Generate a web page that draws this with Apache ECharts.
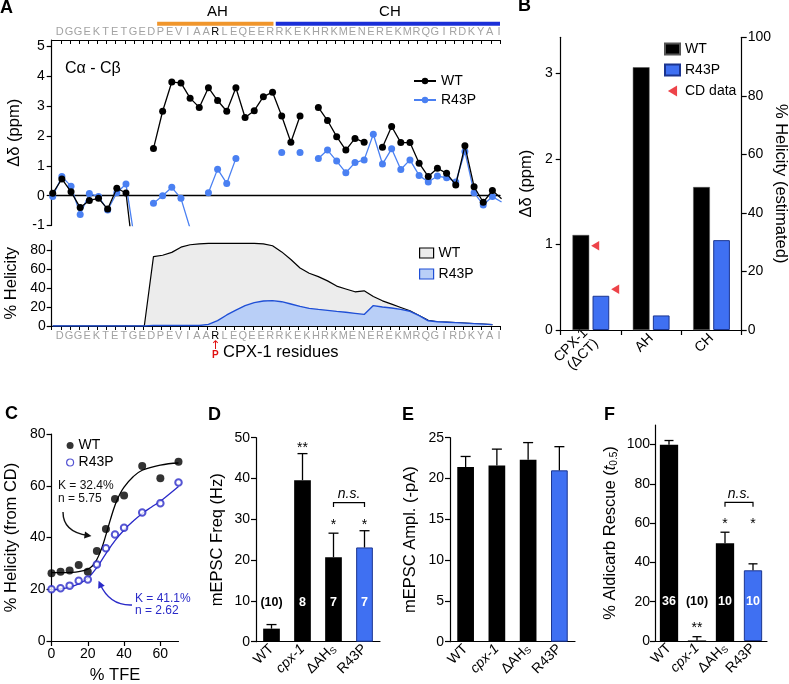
<!DOCTYPE html>
<html><head><meta charset="utf-8">
<script src="https://cdn.jsdelivr.net/npm/echarts@6/dist/echarts.min.js"></script>
<style>html,body{margin:0;padding:0;background:#fff}#c{width:789px;height:684px}</style>
</head><body><div id="c"></div>
<script>
// ---------------- DATA ----------------
const residues = ['D','G','G','E','K','T','E','T','G','E','D','P','E','V','I','A','A','R','L','E','Q','E','E','R','R','K','E','K','H','R','K','M','E','N','E','R','E','K','M','R','Q','G','I','R','D','K','Y','A','I'];
const mutantResidue = 17;
// Panel A: Ca-Cb secondary shift per residue index (null = not assigned)
const wtShift = [0.08,0.56,0.13,-0.40,-0.16,-0.09,-0.45,0.25,0.09,-2.5,null,1.58,2.83,3.81,3.78,3.27,2.96,3.62,3.19,2.83,3.62,2.62,2.85,3.32,3.47,2.67,1.79,2.67,null,2.96,2.52,1.98,1.53,1.92,1.79,null,1.62,2.32,1.78,1.78,1.09,0.64,0.92,0.75,0.36,1.67,0.30,-0.22,0.17,-0.10];
const r43pShift = [-0.03,0.64,0.32,-0.63,0.07,-0.03,-0.48,0.10,0.39,-1.6,null,-0.25,0.0,0.28,-0.09,-1.1,null,0.10,0.89,0.41,1.25,null,null,null,null,1.45,null,1.45,null,1.25,1.53,1.16,0.77,1.11,1.20,2.06,1.06,1.57,0.88,1.20,0.68,0.46,0.66,0.60,0.46,1.48,0.10,-0.31,-0.03,-0.21];
// Panel A: % helicity per residue
const wtHelix = [0,0,0,0,0,0,0,0,0,0,0,73,74.5,77.5,83,85.5,86.5,87,87,87,87,87,87,86.5,84.5,78,70,61,55.5,52,47.5,42,39,36,37,31,26.5,23,19.5,16,11,6,4.5,4,3.5,3,2.5,2,1.5];
const r43pHelix = [0,0,0,0,0,0,0,0,0,0,0,0.5,0.5,0.5,0.5,0.5,0.5,1.7,5.6,11.6,16.8,21.4,24.6,26.3,26.7,25.6,23.2,20.7,18.6,17.5,16.5,15.4,14.4,13.3,12.2,21.5,20,19,17.5,15.5,11,5.5,4.5,4,3.5,3,2.5,2,1.5];
// Panel B
const regionsB = ['CPX-1\n(ΔCT)','AH','CH'];
const wtB = [1.11,3.07,1.67];
const r43pB = [0.40,0.17,1.05];
const cdHelicity = [28.8,13.9]; // WT, R43P of CPX-1 (% helicity)
// Panel C
const tfe = [0,5,10,15,20,25,30,35,40,50,60,70];
const wtCD = [26.2,26.8,27.2,29.4,26.8,34.8,43.3,54.9,56.2,67.6,62.9,69.3];
const r43pCD = [20.0,20.4,21.4,23.3,23.8,29.6,35.8,41.2,43.8,49.7,53.2,61.3];
const wtFitX = [0,5,10,15,20,22.5,25,27.5,30,32.5,35,37.5,40,45,50,60,70];
const wtFitY = [26.4,26.4,26.5,26.8,27.8,29,31.5,35.5,41,47,52.5,56.5,59.5,63.5,66,68,68.8];
const r43pFitX = [0,5,10,15,20,25,30,35,40,45,50,55,60,65,70];
const r43pFitY = [19.8,20.1,20.8,22.1,24.2,28.4,33.8,38.8,42.9,46.3,49.3,51.7,54,56.8,59.7];
// Panels D-F
const genotypes = ['WT','cpx-1','ΔAHS','R43P'];
const freqMean = [3.2,39.6,20.7,23.1];
const freqErr = [1.0,6.5,5.9,4.1];
const freqN = ['(10)','8','7','7'];
const freqSig = ['','**','*','*'];
const freqSigLevel = [null,47.4,28.6,28.6];
const amplMean = [21.4,21.6,22.3,21.0];
const amplErr = [1.3,2.0,2.1,2.9];
const rescueMean = [100,0.3,49.8,36.0];
const rescueErr = [2.1,1.9,5.6,3.3];
const rescueN = ['36','(10)','10','10'];
const rescueSig = ['','**','*','*'];
const rescueSigLevel = [null,6.6,59.3,59.3];

// ---------------- STYLE ----------------
const FONT = '"Liberation Sans", Arial, Helvetica, sans-serif';
const BLUE_BAR = '#3f70f2', BLUE_EDGE = '#1b3590', BLUE_PT = '#4a80f2', CD_BLUE = '#2a2ac8';
const BLK = '#000';
const chart = echarts.init(document.getElementById('c'));

const line = (w) => ({show:true, onZero:false, lineStyle:{color:BLK, width:w||1.2}});
function valY(grid, min, max, ticks, name, gap, margin, extra) {
  return Object.assign({
    gridIndex:grid, type:'value', min:min, max:max,
    axisLine: line(1.2),
    axisTick:{show:true, length:5, customValues:ticks, lineStyle:{color:BLK, width:1.2}},
    axisLabel:{customValues:ticks, color:BLK, fontSize:14, margin:margin||7},
    splitLine:{show:false},
    name:name, nameLocation:'middle', nameGap:gap, nameMoveOverlap:false,
    nameTextStyle:{fontSize:16.5, color:BLK}
  }, extra||{});
}
function letterFmt(withArrow) {
  return (v, i) => i === mutantResidue ? (withArrow ? '{r|R}\n{a|↑}\n{p|P}' : '{r|R}') : v;
}
const letterRich = {
  r:{color:BLK, fontSize:11, lineHeight:11},
  a:{color:'#e01010', fontSize:12, lineHeight:9, fontFamily:'DejaVu Sans'},
  p:{color:'#e01010', fontSize:10, fontWeight:'bold', lineHeight:10}
};
function letterAxis(grid, pos) {
  return {gridIndex:grid, type:'category', position:pos, data:residues, boundaryGap:true,
    axisLine: line(1.1),
    axisTick:{show:true, inside: pos==='top', length:4, interval:0, lineStyle:{color:BLK, width:1}},
    axisLabel:{interval:0, color:'#a3a3a3', fontSize:11, margin: pos==='top'?3:4, padding:[0,0,0,7],
      formatter: letterFmt(pos!=='top'), rich: letterRich},
    splitLine:{show:false}};
}
const catFmt = v => v==='cpx-1' ? '{i|cpx-1}' : (v==='ΔAHS' ? 'ΔAH{s|S}' : v);
function genoAxis(grid) {
  return {gridIndex:grid, type:'category', data:genotypes,
    axisLine: line(1.2), axisTick:{show:false},
    axisLabel:{interval:0, rotate:45, color:BLK, fontSize:14, margin:5, formatter:catFmt,
      rich:{i:{fontStyle:'italic', fontSize:14, color:BLK}, s:{fontSize:9, color:BLK, padding:[6,0,0,0]}}},
    splitLine:{show:false}};
}
function barSeries(xi, yi, means, nLabels, width, dist) {
  return {type:'bar', xAxisIndex:xi, yAxisIndex:yi, barWidth:width, z:2,
    data: means.map((v,i)=>({value:v,
      itemStyle: genotypes[i]==='R43P' ? {color:BLUE_BAR, borderColor:BLUE_EDGE, borderWidth:1} : {color:BLK},
      label: nLabels ? {show:true, formatter:nLabels[i], color: nLabels[i].startsWith('(') ? BLK : '#fff'} : {show:false}})),
    label:{position:'insideBottom', distance:dist||33, fontSize:12.5, fontWeight:'bold', fontFamily:FONT}};
}
function errSeries(xi, yi, means, errs, cap) {
  return {type:'custom', xAxisIndex:xi, yAxisIndex:yi, z:3,
    data: means.map((m,i)=>[i, m, errs[i]]),
    renderItem(params, api) {
      const b = api.coord([api.value(0), api.value(1)]);
      const t = api.coord([api.value(0), api.value(1)+api.value(2)]);
      return {type:'group', children:[
        {type:'line', shape:{x1:b[0], y1:b[1], x2:t[0], y2:t[1]}, style:{stroke:BLK, lineWidth:1.3}},
        {type:'line', shape:{x1:t[0]-cap, y1:t[1], x2:t[0]+cap, y2:t[1]}, style:{stroke:BLK, lineWidth:1.3}}
      ]};
    }};
}
function sigSeries(xi, yi, sig, lev) {
  return {type:'custom', xAxisIndex:xi, yAxisIndex:yi, z:4,
    data: sig.map((s,i)=>[i, lev[i]==null?0:lev[i]]),
    renderItem(params, api) {
      const s = sig[params.dataIndex];
      if (!s) return {type:'group', children:[]};
      const p = api.coord([api.value(0), api.value(1)]);
      return {type:'text', x:p[0], y:p[1], style:{text:s, fill:BLK, fontSize:14, fontFamily:FONT, align:'center', verticalAlign:'middle'}};
    }};
}
function bracketSeries(xi, yi, from, to, level) {
  return {type:'custom', xAxisIndex:xi, yAxisIndex:yi, z:4,
    data:[[from, level, to]],
    renderItem(params, api) {
      const a = api.coord([api.value(0), api.value(1)]);
      const b = api.coord([api.value(2), api.value(1)]);
      return {type:'group', children:[
        {type:'polyline', shape:{points:[[a[0],a[1]+4.5],[a[0],a[1]],[b[0],a[1]],[b[0],a[1]+4.5]]}, style:{stroke:BLK, lineWidth:1.2, fill:null}},
        {type:'text', x:(a[0]+b[0])/2, y:a[1]-8, style:{text:'n.s.', fontStyle:'italic', fill:BLK, fontSize:14, fontFamily:FONT, align:'center', verticalAlign:'middle'}}
      ]};
    }};
}
const nm = n => n.split('|')[0];
const legendText = {fontSize:14, color:BLK, fontFamily:FONT};

const option = {
  animation:false,
  backgroundColor:'#fff',
  textStyle:{fontFamily:FONT},
  grid:[
    {left:51.7, top:40, width:448.3, height:185.5},
    {left:51.7, top:240.5, width:448.3, height:85.5},
    {left:560.7, top:37.3, width:181, height:292.7},
    {left:51.5, top:434, width:127, height:207},
    {left:256, top:437.7, width:124, height:204},
    {left:450, top:437.7, width:125, height:204},
    {left:655, top:425, width:112, height:216}
  ].map(g=>Object.assign(g,{containLabel:false, outerBoundsMode:'none'})),
  xAxis:[
    {gridIndex:0, type:'value', min:-0.11, max:48.83, axisLine:{show:true, onZero:true, lineStyle:{color:BLK, width:1.3}}, axisTick:{show:false}, axisLabel:{show:false}, splitLine:{show:false}},
    letterAxis(0,'top'),
    {gridIndex:1, type:'value', min:-0.11, max:48.83, show:false},
    Object.assign(letterAxis(1,'bottom'), {name:'CPX-1 residues', nameLocation:'middle', nameGap:18, nameMoveOverlap:false, nameTextStyle:{fontSize:16.5, color:BLK, padding:[0,0,0,10]}}),
    {gridIndex:2, type:'category', data:regionsB, axisLine:line(1.2),
      axisTick:{show:true, length:5, lineStyle:{color:BLK, width:1.2}},
      axisLabel:{interval:0, rotate:45, color:BLK, fontSize:14, margin:6, lineHeight:15}, splitLine:{show:false}},
    {gridIndex:3, type:'value', min:0, max:70, axisLine:line(1.2),
      axisTick:{show:true, length:5, customValues:[0,20,40,60], lineStyle:{color:BLK, width:1.2}},
      axisLabel:{customValues:[0,20,40,60], color:BLK, fontSize:14, margin:6}, splitLine:{show:false},
      name:'% TFE', nameLocation:'middle', nameGap:26, nameMoveOverlap:false, nameTextStyle:{fontSize:16.5, color:BLK}},
    genoAxis(4), genoAxis(5), genoAxis(6)
  ],
  yAxis:[
    valY(0, -1, 5.22, [-1,0,1,2,3,4,5], 'Δδ (ppm)', 29, 7),
    valY(1, 0, 90, [0,20,40,60,80], '% Helicity', 32, 6),
    valY(2, 0, 3.42, [0,1,2,3], 'Δδ (ppm)', 26, 8),
    valY(2, 0, 100, [0,20,40,60,80,100], '% Helicity (estimated)', 30, 6, {position:'right', nameRotate:-90}),
    valY(3, 0, 80, [0,20,40,60,80], '% Helicity (from CD)', 32, 6),
    valY(4, 0, 50, [0,10,20,30,40,50], 'mEPSC Freq (Hz)', 30, 6),
    valY(5, 0, 25, [0,5,10,15,20,25], 'mEPSC Ampl. (-pA)', 31, 6),
    valY(6, 0, 110, [0,20,40,60,80,100], '% Aldicarb Rescue ({t|t}{sub|0.5})', 36, 5,
      {nameTextStyle:{fontSize:16.5, color:BLK, rich:{t:{fontStyle:'italic', fontSize:16.5, color:BLK}, sub:{fontSize:10, color:BLK, padding:[7,0,0,0]}}}})
  ],
  legend:[
    {data:['WT|a','R43P|a'], formatter:nm, orient:'vertical', left:408, top:69, itemWidth:22, itemHeight:8, itemGap:5, textStyle:legendText},
    {data:[{name:'WT|h', icon:'rect', itemStyle:{color:'#ececec', borderColor:BLK, borderWidth:1.2}},
           {name:'R43P|h', icon:'rect', itemStyle:{color:'#b9cff7', borderColor:'#1f4fd6', borderWidth:1.2}}],
      formatter:nm, orient:'vertical', left:414, top:241, itemWidth:14, itemHeight:10, itemGap:7, textStyle:legendText},
    {data:[{name:'WT|b', icon:'rect'}, {name:'R43P|b', icon:'rect'}, {name:'CD data', icon:'path://M10,0L10,12L0,6Z'}],
      formatter:nm, orient:'vertical', left:659, top:37, itemWidth:15, itemHeight:11, itemGap:7, textStyle:legendText},
    {data:[{name:'WT|c', icon:'circle', itemStyle:{color:BLK, borderWidth:0}},
           {name:'R43P|c', icon:'circle', itemStyle:{color:'#fff', borderColor:CD_BLUE, borderWidth:1.2}}],
      formatter:nm, orient:'vertical', left:61, top:433, itemWidth:7, itemHeight:7, itemGap:2, textStyle:Object.assign({}, legendText, {lineHeight:15})}
  ],
  series:[
    // A1
    {name:'WT|a', type:'line', xAxisIndex:0, yAxisIndex:0, data:wtShift.map((v,i)=>[i, v==null?'-':v]),
      symbol:'circle', symbolSize:7, showAllSymbol:true, connectNulls:false, clip:true,
      itemStyle:{color:BLK}, lineStyle:{color:BLK, width:1.3}, z:4},
    {name:'R43P|a', type:'line', xAxisIndex:0, yAxisIndex:0, data:r43pShift.map((v,i)=>[i, v==null?'-':v]),
      symbol:'circle', symbolSize:7, showAllSymbol:true, connectNulls:false, clip:true,
      itemStyle:{color:BLUE_PT}, lineStyle:{color:BLUE_PT, width:1.3}, z:3},
    // A2
    {name:'WT|h', type:'line', xAxisIndex:2, yAxisIndex:1, data:wtHelix.map((v,i)=>[i,v]), symbol:'none',
      lineStyle:{color:BLK, width:1.2}, itemStyle:{color:'#ececec'}, areaStyle:{color:'#ececec', opacity:1}, z:2},
    {name:'R43P|h', type:'line', xAxisIndex:2, yAxisIndex:1, data:r43pHelix.map((v,i)=>[i,v]), symbol:'none',
      lineStyle:{color:'#1f4fd6', width:1.4}, itemStyle:{color:'#b9cff7'}, areaStyle:{color:'#b9cff7', opacity:1}, z:3},
    // B
    {name:'WT|b', type:'bar', xAxisIndex:4, yAxisIndex:2, data:wtB, barWidth:16.7, barGap:'20%',
      itemStyle:{color:BLK, borderColor:'#555', borderWidth:0.5}},
    {name:'R43P|b', type:'bar', xAxisIndex:4, yAxisIndex:2, data:r43pB, barWidth:16.7, barGap:'20%',
      itemStyle:{color:BLUE_BAR, borderColor:BLUE_EDGE, borderWidth:1}},
    {name:'CD data', type:'scatter', xAxisIndex:4, yAxisIndex:3, symbol:'path://M10,0L10,12L0,6Z', symbolSize:[8,9.5],
      itemStyle:{color:'#e8141c'}, z:5,
      data: cdHelicity.map((v,i)=>({value:[0, v], symbolOffset:[i===0?4.3:24.3, 0]}))},
    // C
    {name:'WT fit', type:'line', xAxisIndex:5, yAxisIndex:4, data:wtFitX.map((x,i)=>[x, wtFitY[i]]), smooth:0.4,
      symbol:'none', lineStyle:{color:BLK, width:1.3}, z:2},
    {name:'R43P fit', type:'line', xAxisIndex:5, yAxisIndex:4, data:r43pFitX.map((x,i)=>[x, r43pFitY[i]]), smooth:0.4,
      symbol:'none', lineStyle:{color:CD_BLUE, width:1.3}, z:2},
    {name:'WT|c', type:'scatter', xAxisIndex:5, yAxisIndex:4, data:tfe.map((x,i)=>[x, wtCD[i]]), symbol:'circle', symbolSize:8,
      itemStyle:{color:BLK}, z:4},
    {name:'R43P|c', type:'scatter', xAxisIndex:5, yAxisIndex:4, data:tfe.map((x,i)=>[x, r43pCD[i]]), symbol:'emptyCircle', symbolSize:6.5,
      itemStyle:{color:CD_BLUE, borderColor:CD_BLUE, borderWidth:1.2}, z:4},
    // D
    barSeries(6,5,freqMean,freqN,16.7,33), errSeries(6,5,freqMean,freqErr,5), sigSeries(6,5,freqSig,freqSigLevel), bracketSeries(6,5,2,3,34.1),
    // E
    barSeries(7,6,amplMean,null,16.7), errSeries(7,6,amplMean,amplErr,5),
    // F
    barSeries(8,7,rescueMean,rescueN,18.3,33), errSeries(8,7,rescueMean,rescueErr,4.5), sigSeries(8,7,rescueSig,rescueSigLevel), bracketSeries(8,7,2,3,70.6)
  ]
};
chart.setOption(option);

// ---------------- ANNOTATIONS ----------------
const px = v => chart.convertToPixel({xAxisIndex:0}, v);
const helices = [{name:'AH', from:11.4, to:24.1, color:'#f0962c'}, {name:'CH', from:24.35, to:48.83, color:'#1a2fd8'}];
const g = [];
helices.forEach(h => {
  const a = px(h.from), b = px(h.to);
  g.push({type:'rect', shape:{x:a, y:21.8, width:b-a, height:4}, style:{fill:h.color}});
  g.push({type:'text', x:(a+b)/2+2, y:12, style:{text:h.name, fontSize:15, fontFamily:FONT, fill:BLK, align:'center', verticalAlign:'middle'}});
});
const letters = [['A',0,8.5],['B',518,6.5],['C',5,414.5],['D',208,415],['E',402,415],['F',604,415]];
letters.forEach(l => g.push({type:'text', x:l[1], y:l[2], style:{text:l[0], fontSize:18, fontWeight:'bold', fontFamily:FONT, fill:BLK, align:'left', verticalAlign:'middle'}}));
g.push({type:'text', x:65, y:69, style:{text:'Cα - Cβ', fontSize:16, fontFamily:FONT, fill:BLK, align:'left', verticalAlign:'middle'}});
// C annotations
g.push({type:'text', x:58, y:492, style:{text:'K = 32.4%\nn = 5.75', fontSize:12, lineHeight:13.5, fontFamily:FONT, fill:'#111', align:'left', verticalAlign:'middle'}});
g.push({type:'text', x:135, y:605, style:{text:'K = 41.1%\nn = 2.62', fontSize:12, lineHeight:12, fontFamily:FONT, fill:CD_BLUE, align:'left', verticalAlign:'middle'}});
function arrow(x1,y1,cx,cy,x2,y2,color){
  g.push({type:'bezierCurve', shape:{x1:x1,y1:y1,cpx1:cx,cpy1:cy,x2:x2,y2:y2}, style:{stroke:color, lineWidth:1.4, fill:null}});
  let dx=x2-cx, dy=y2-cy; const L=Math.hypot(dx,dy); dx/=L; dy/=L;
  const tip=[x2+dx*3.5, y2+dy*3.5], base=[x2-dx*3.5, y2-dy*3.5];
  g.push({type:'polygon', shape:{points:[tip,[base[0]-dy*3.6, base[1]+dx*3.6],[base[0]+dy*3.6, base[1]-dx*3.6]]}, style:{fill:color}});
}
arrow(63,512, 63,532, 88,535.5, '#111');
arrow(132,605, 110,606, 100,584, CD_BLUE);
chart.setOption({graphic:g});
</script></body></html>
